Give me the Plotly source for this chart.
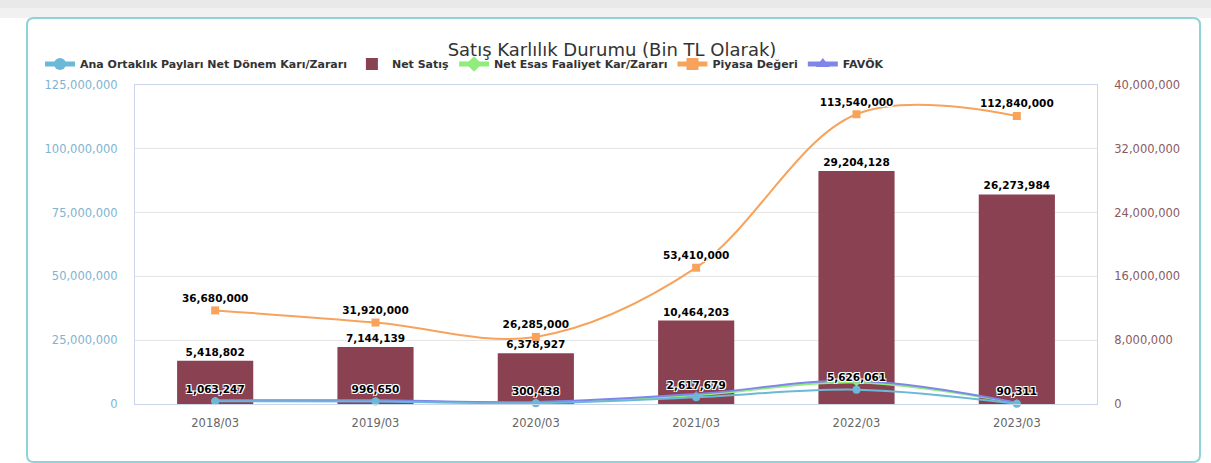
import plotly.graph_objects as go

categories = ["2018/03", "2019/03", "2020/03", "2021/03", "2022/03", "2023/03"]
ana_ortaklik = [1063247, 996650, 300438, 2617679, 5626061, 90311]
net_satis = [5418802, 7144139, 6378927, 10464203, 29204128, 26273984]
net_esas = [1300000, 1250000, 600000, 3400000, 8400000, 350000]
piyasa = [36680000, 31920000, 26285000, 53410000, 113540000, 112840000]
favok = [1500000, 1450000, 800000, 3900000, 9100000, 500000]

W, H = 1211, 463
L, R, T, B = 135, 1097, 85, 404
pw, ph = R - L, B - T


def px_x(x):
    return (x - L) / pw


def px_y(y):
    return (B - y) / ph


def rounded_rect(x0, y0, x1, y1, r):
    pts = [
        f"M {px_x(x0 + r)},{px_y(y0)}",
        f"L {px_x(x1 - r)},{px_y(y0)}",
        f"Q {px_x(x1)},{px_y(y0)} {px_x(x1)},{px_y(y0 + r)}",
        f"L {px_x(x1)},{px_y(y1 - r)}",
        f"Q {px_x(x1)},{px_y(y1)} {px_x(x1 - r)},{px_y(y1)}",
        f"L {px_x(x0 + r)},{px_y(y1)}",
        f"Q {px_x(x0)},{px_y(y1)} {px_x(x0)},{px_y(y1 - r)}",
        f"L {px_x(x0)},{px_y(y0 + r)}",
        f"Q {px_x(x0)},{px_y(y0)} {px_x(x0 + r)},{px_y(y0)}",
        "Z",
    ]
    return " ".join(pts)


FONT = "Verdana, DejaVu Sans, sans-serif"
SHADOW = "1px 1px 0 #fff, -1px -1px 0 #fff, 1px -1px 0 #fff, -1px 1px 0 #fff"
LBL = dict(family=FONT, size=10.5, color="#000", weight="bold", shadow=SHADOW)

fig = go.Figure()

fig.add_trace(go.Bar(
    x=categories, y=net_satis, name="Net Satış", yaxis="y",
    marker=dict(color="#8a4252", line=dict(width=0)),
    text=[f"{v:,}" for v in net_satis], textposition="outside",
    textfont=LBL, cliponaxis=False, legendrank=2,
))

fig.add_trace(go.Scatter(
    x=categories, y=net_esas, name="Net Esas Faaliyet Kar/Zararı", yaxis="y2",
    mode="lines+markers", line=dict(color="#90ed7d", width=2, shape="spline", smoothing=1.0),
    marker=dict(symbol="diamond", size=6, color="#90ed7d"), legendrank=3,
))
fig.add_trace(go.Scatter(
    x=categories, y=favok, name="FAVÖK", yaxis="y2",
    mode="lines+markers", line=dict(color="#8085e9", width=2, shape="spline", smoothing=1.0),
    marker=dict(symbol="triangle-up", size=6, color="#8085e9"), legendrank=5,
))
fig.add_trace(go.Scatter(
    x=categories, y=ana_ortaklik, name="Ana Ortaklık Payları Net Dönem Karı/Zararı", yaxis="y2",
    mode="lines+markers+text", line=dict(color="#6cb8d8", width=2, shape="spline", smoothing=1.0),
    marker=dict(symbol="circle", size=8, color="#6cb8d8"),
    text=[f"{v:,}" for v in ana_ortaklik], textposition="top center",
    textfont=LBL, cliponaxis=False, legendrank=1,
))
fig.add_trace(go.Scatter(
    x=categories, y=piyasa, name="Piyasa Değeri", yaxis="y2",
    mode="lines+markers+text", line=dict(color="#f7a35c", width=2, shape="spline", smoothing=1.0),
    marker=dict(symbol="square", size=8, color="#f7a35c"),
    text=[f"{v:,}" for v in piyasa], textposition="top center",
    textfont=LBL, cliponaxis=False, legendrank=4,
))

shapes = [
    dict(type="rect", xref="paper", yref="paper", x0=px_x(0), x1=px_x(W), y0=px_y(18), y1=px_y(0),
         fillcolor="#f1f1f1", line=dict(width=0), layer="below"),
    dict(type="rect", xref="paper", yref="paper", x0=px_x(0), x1=px_x(W), y0=px_y(8), y1=px_y(0),
         fillcolor="#e9e9e9", line=dict(width=0), layer="below"),
    dict(type="path", xref="paper", yref="paper", path=rounded_rect(27, 18, 1200, 462, 7),
         fillcolor="#ffffff", line=dict(color="#8fd3d8", width=2), layer="below"),
]

fig.update_layout(
    width=W, height=H,
    margin=dict(l=L, r=W - R, t=T, b=H - B, pad=0, autoexpand=False),
    paper_bgcolor="#ffffff", plot_bgcolor="rgba(0,0,0,0)",
    font=dict(family=FONT, size=12, color="#333"),
    title=dict(text="Satış Karlılık Durumu (Bin TL Olarak)", x=612 / W, xanchor="center",
               y=1 - 50 / H, yanchor="middle", yref="container",
               font=dict(family=FONT, size=18, color="#333")),
    showlegend=True,
    legend=dict(orientation="h", x=px_x(40), xanchor="left", y=px_y(64), yanchor="middle",
                font=dict(family=FONT, size=11, color="#333", weight="bold"),
                bgcolor="rgba(0,0,0,0)", traceorder="normal", itemsizing="constant",
                itemwidth=30),
    bargap=0.525,
    xaxis=dict(type="category", showgrid=False, showline=True, linecolor="#ccd6eb", mirror=True,
               ticks="outside", ticklen=8, tickcolor="rgba(0,0,0,0)",
               tickfont=dict(family=FONT, size=11.5, color="#666")),
    yaxis=dict(side="right", range=[0, 40000000], dtick=8000000, tickformat=",d",
               showgrid=True, gridcolor="#e6e6e6", showline=True, linecolor="#ccd6eb",
               zeroline=False, tickfont=dict(family=FONT, size=11.5, color="#8a5a62"),
               ticks="outside", ticklen=14, tickcolor="rgba(0,0,0,0)"),
    yaxis2=dict(side="left", overlaying="y", range=[0, 125000000], dtick=25000000, tickformat=",d",
                showgrid=False, showline=True, linecolor="#ccd6eb", zeroline=False,
                tickfont=dict(family=FONT, size=11.5, color="#7fb4d0"),
                ticks="outside", ticklen=14, tickcolor="rgba(0,0,0,0)"),
    shapes=shapes,
)

fig.write_html("out.html", config={"displayModeBar": False},
               post_script="document.body.style.margin='0';document.body.style.overflow='hidden';")
